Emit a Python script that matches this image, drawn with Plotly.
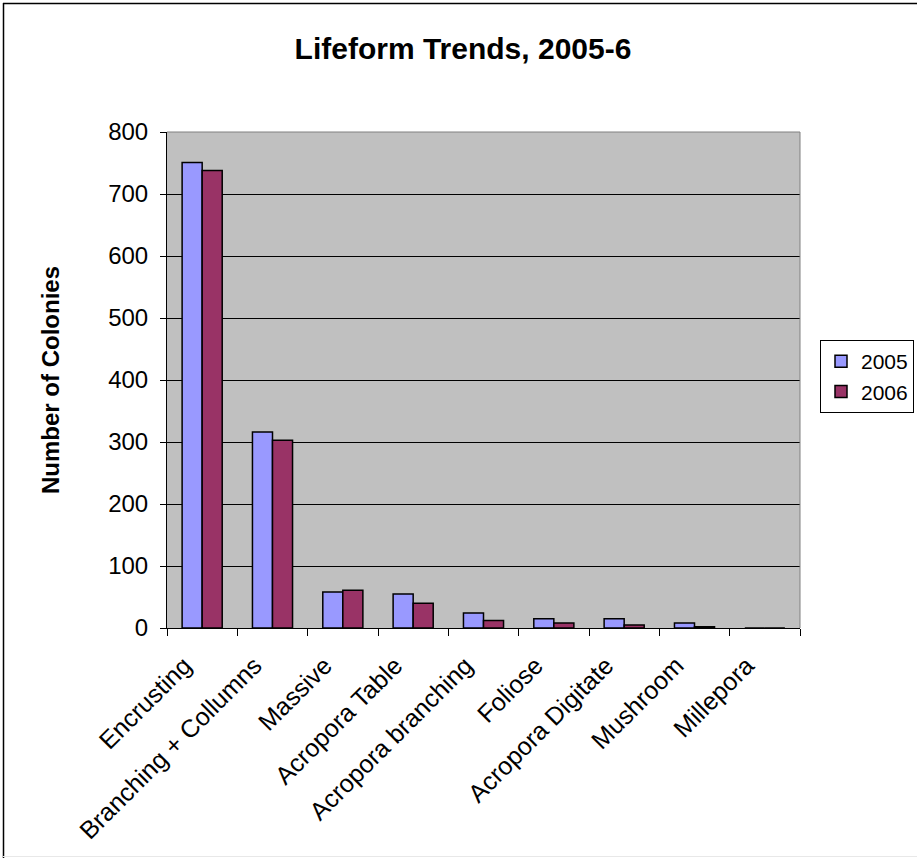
import plotly.graph_objects as go

categories = ["Encrusting", "Branching + Collumns", "Massive", "Acropora Table",
              "Acropora branching", "Foliose", "Acropora Digitate", "Mushroom", "Millepora"]
values_2005 = [751, 316, 58, 55, 24, 15, 15, 8, 0]
values_2006 = [738, 303, 61, 40, 12, 8, 5, 2, 0]
y_ticks = [0, 100, 200, 300, 400, 500, 600, 700, 800]

FONT = "Liberation Sans, Arial, sans-serif"

fig = go.Figure()
fig.add_trace(go.Bar(name="2005", x=categories, y=values_2005,
                     marker=dict(color="#9999FF", line=dict(color="black", width=1.5))))
fig.add_trace(go.Bar(name="2006", x=categories, y=values_2006,
                     marker=dict(color="#993366", line=dict(color="black", width=1.5))))

L, R, T, B = 167, 117, 132, 230
W, H = 917, 858
pw, ph = W - L - R, H - T - B

fig.update_layout(
    width=W, height=H,
    margin=dict(l=L, r=R, t=T, b=B, pad=0, autoexpand=False),
    paper_bgcolor="white", plot_bgcolor="#C0C0C0",
    barmode="group", bargap=0.43, bargroupgap=0,
    font=dict(family=FONT, color="black"),
    title=dict(text="<b>Lifeform Trends, 2005-6</b>", x=463 / W, xanchor="center",
               y=1 - 48 / H, yanchor="middle", font=dict(size=30, family=FONT)),
    legend=dict(x=(820 - L) / pw, y=(628 - 340) / ph, xanchor="left", yanchor="top",
                bordercolor="black", borderwidth=1, bgcolor="white",
                font=dict(size=21, family=FONT), itemwidth=30, tracegroupgap=3),
    xaxis=dict(tickangle=-45, tickfont=dict(size=25, family=FONT), automargin=False,
               showline=True, linecolor="black", linewidth=1,
               ticks="outside", tickson="boundaries", ticklen=7, tickcolor="black",
               ticklabelstandoff=12, ticklabelshift=-18,
               showgrid=False, range=[-0.5, 8.5]),
    yaxis=dict(range=[0, 800], tickvals=y_ticks, tickfont=dict(size=24, family=FONT),
               automargin=False, ticklabelstandoff=7,
               showline=True, linecolor="black", linewidth=1,
               ticks="outside", ticklen=6, tickcolor="black",
               showgrid=True, gridcolor="black", gridwidth=1, zeroline=False,
               title=dict(text="<b>Number of Colonies</b>", font=dict(size=24, family=FONT),
                          standoff=41)),
    showlegend=True,
)

shapes = [
    # plot area top/right gray border
    dict(type="line", xref="paper", yref="paper", x0=0, x1=1, y0=1, y1=1,
         line=dict(color="#808080", width=1)),
    dict(type="line", xref="paper", yref="paper", x0=1, x1=1, y0=0, y1=1,
         line=dict(color="#808080", width=1)),
    # chart frame: top and left dark, bottom faint
    dict(type="line", xref="paper", yref="paper",
         x0=(3 - L) / pw, x1=(917 - L) / pw, y0=(628 - 3.5) / ph, y1=(628 - 3.5) / ph,
         line=dict(color="black", width=1.5)),
    dict(type="line", xref="paper", yref="paper",
         x0=(3.5 - L) / pw, x1=(3.5 - L) / pw, y0=(628 - 858) / ph, y1=(628 - 3) / ph,
         line=dict(color="black", width=1.5)),
    dict(type="line", xref="paper", yref="paper",
         x0=(3 - L) / pw, x1=(917 - L) / pw, y0=(628 - 856.5) / ph, y1=(628 - 856.5) / ph,
         line=dict(color="#E8E8E8", width=1)),
]
fig.update_layout(shapes=shapes)

fig.write_html("out.html")
